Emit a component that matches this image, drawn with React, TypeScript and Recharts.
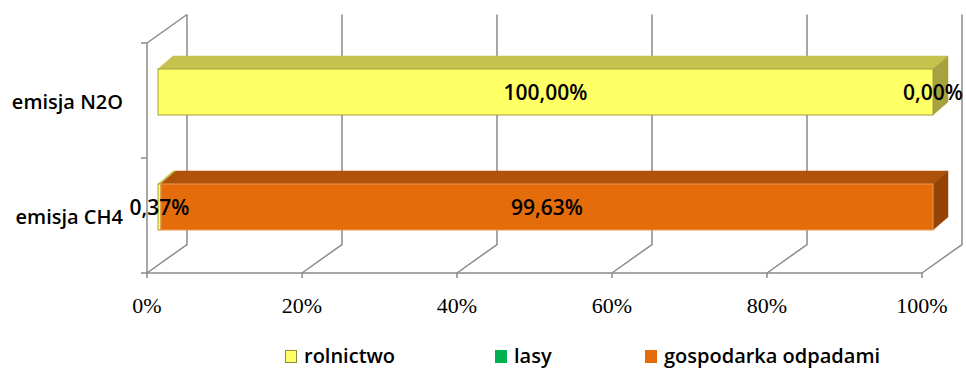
import { Bar, BarChart, CartesianGrid, LabelList, Legend, XAxis, YAxis } from 'recharts'

const categories = ['emisja N2O', 'emisja CH4']
const rolnictwo = [100, 0.37]
const lasy = [0, 0]
const gospodarka = [0, 99.63]
const xTicks = [0, 20, 40, 60, 80, 100]
const seriesNames = ['rolnictwo', 'lasy', 'gospodarka odpadami']

const data = categories.map((name, i) => ({
  name,
  rolnictwo: rolnictwo[i],
  lasy: lasy[i],
  gospodarka: gospodarka[i],
}))

// fake 3d: back wall offset and bar depth
const WALL_DX = 40
const WALL_DY = -28.5
const BAR_DX = 11
const BAR_DY = -9
const DEPTH_DX = 15
const DEPTH_DY = -13
const Y_TICK_SIZE = 6
const Y_TICK_MARGIN = 18
const GRID = '#8a8a8a'
const SANS = '"Open Sans", sans-serif'

const palettes = {
  rolnictwo: { front: '#ffff66', top: '#c6c24e', side: '#a6a23f', stroke: '#a3a046' },
  lasy: { front: '#00b050', top: '#008a3e', side: '#006e32', stroke: '#00a04a' },
  gospodarka: { front: '#e46c0a', top: '#b05209', side: '#944505', stroke: '#ee9a55' },
}

const legendItems = [
  { name: seriesNames[0], fill: palettes.rolnictwo.front, border: '#8f8c3a', width: 210 },
  { name: seriesNames[1], fill: palettes.lasy.front, border: palettes.lasy.front, width: 150 },
  { name: seriesNames[2], fill: palettes.gospodarka.front, border: palettes.gospodarka.front, width: 260 },
]

const formatPct = (v: number) => `${v.toFixed(2).replace('.', ',')}%`

function Bar3D(props: any) {
  const { palette } = props
  const x = Number(props.x)
  const y = Number(props.y)
  const width = Number(props.width)
  const height = Number(props.height)
  if (!width || width < 0.5) return null
  const fx = x + BAR_DX
  const fy = y + BAR_DY
  const top = `${fx},${fy} ${fx + width},${fy} ${fx + width + DEPTH_DX},${fy + DEPTH_DY} ${fx + DEPTH_DX},${fy + DEPTH_DY}`
  const side = `${fx + width},${fy} ${fx + width + DEPTH_DX},${fy + DEPTH_DY} ${fx + width + DEPTH_DX},${fy + height + DEPTH_DY} ${fx + width},${fy + height}`
  return (
    <g>
      <polygon points={top} fill={palette.top} stroke={palette.top} strokeWidth={0.5} />
      <polygon points={side} fill={palette.side} stroke={palette.side} strokeWidth={0.5} />
      <rect x={fx} y={fy} width={width} height={height} fill={palette.front} stroke={palette.stroke} strokeWidth={1} />
    </g>
  )
}

const renderValueLabel = (props: any) => {
  const box = props.viewBox ?? props
  const { value } = props
  if (value == null) return null
  const cx = Number(box.x) + Number(box.width) / 2 + BAR_DX
  const cy = Number(box.y) + Number(box.height) / 2 + BAR_DY
  return (
    <text
      x={cx}
      y={cy}
      textAnchor='middle'
      dominantBaseline='central'
      fontFamily={SANS}
      fontSize={21}
      fontWeight={600}
      fill='#000'
    >
      {formatPct(Number(value))}
    </text>
  )
}

const renderWallLine = (props: any) => {
  const { x1, y1, y2, index } = props
  const bx = x1 + WALL_DX
  return (
    <g key={`wall-${index}`}>
      <polyline
        points={`${bx},${y1 + WALL_DY} ${bx},${y2 + WALL_DY} ${x1},${y2}`}
        fill='none'
        stroke={GRID}
        strokeWidth={1.5}
      />
      {index === 0 && <line x1={x1} y1={y1} x2={bx} y2={y1 + WALL_DY} stroke={GRID} strokeWidth={1.5} />}
    </g>
  )
}

function CategoryTick(props: any) {
  const { x, y, payload, index } = props
  const half = payload?.offset || 57.5
  const axisX = x + Y_TICK_MARGIN + Y_TICK_SIZE
  const tickX = x + Y_TICK_MARGIN
  return (
    <g>
      <line x1={tickX} x2={axisX} y1={y - half} y2={y - half} stroke={GRID} strokeWidth={1.5} />
      {index === categories.length - 1 && (
        <line x1={tickX} x2={axisX} y1={y + half} y2={y + half} stroke={GRID} strokeWidth={1.5} />
      )}
      <text
        x={x}
        y={y + 1}
        textAnchor='end'
        dominantBaseline='central'
        fontFamily={SANS}
        fontSize={20}
        fontWeight={600}
        fill='#000'
      >
        {payload.value}
      </text>
    </g>
  )
}

function PercentTick(props: any) {
  const { x, y, payload } = props
  return (
    <text x={x} y={y + 33} textAnchor='middle' fontFamily='"Liberation Serif", serif' fontSize={22} fill='#000'>
      {`${payload.value}%`}
    </text>
  )
}

function LegendBox() {
  return (
    <div style={{ display: 'flex', paddingLeft: 285, height: 22, alignItems: 'center' }}>
      {legendItems.map((item) => (
        <div key={item.name} style={{ display: 'flex', alignItems: 'center', width: item.width }}>
          <span
            style={{
              display: 'inline-block',
              width: 10,
              height: 11,
              background: item.fill,
              border: `1.5px solid ${item.border}`,
              marginRight: 7,
            }}
          />
          <span
            style={{
              fontFamily: SANS,
              fontSize: 20,
              fontWeight: 600,
              lineHeight: '22px',
              color: '#000',
              whiteSpace: 'nowrap',
            }}
          >
            {item.name}
          </span>
        </div>
      ))}
    </div>
  )
}

export default function App() {
  return (
    <div style={{ position: 'absolute', left: 0, top: 0, width: 966, height: 370, background: '#fff' }}>
      <BarChart
        width={966}
        height={370}
        data={data}
        layout='vertical'
        margin={{ top: 43, right: 44, bottom: 37, left: 0 }}
        barSize={46}
      >
        <CartesianGrid horizontal={false} vertical={renderWallLine} />
        <XAxis
          type='number'
          domain={[0, 100]}
          ticks={xTicks}
          interval={0}
          height={60}
          stroke={GRID}
          strokeWidth={1.5}
          tickSize={5}
          tickMargin={2}
          tick={<PercentTick />}
        />
        <YAxis
          type='category'
          dataKey='name'
          width={147}
          stroke={GRID}
          strokeWidth={1.5}
          tickLine={false}
          tickSize={Y_TICK_SIZE}
          tickMargin={Y_TICK_MARGIN}
          tick={<CategoryTick />}
        />
        <Legend
          layout='horizontal'
          verticalAlign='middle'
          align='center'
          wrapperStyle={{ left: 0, top: 345, width: 966, height: 22 }}
          content={() => <LegendBox />}
        />
        <Bar
          dataKey='rolnictwo'
          name={seriesNames[0]}
          stackId='a'
          fill={palettes.rolnictwo.front}
          isAnimationActive={false}
          shape={(p: any) => <Bar3D {...p} palette={palettes.rolnictwo} />}
        >
          <LabelList dataKey='rolnictwo' content={renderValueLabel} />
        </Bar>
        <Bar
          dataKey='lasy'
          name={seriesNames[1]}
          stackId='a'
          fill={palettes.lasy.front}
          isAnimationActive={false}
          shape={(p: any) => <Bar3D {...p} palette={palettes.lasy} />}
        />
        <Bar
          dataKey='gospodarka'
          name={seriesNames[2]}
          stackId='a'
          fill={palettes.gospodarka.front}
          isAnimationActive={false}
          shape={(p: any) => <Bar3D {...p} palette={palettes.gospodarka} />}
        >
          <LabelList dataKey='gospodarka' content={renderValueLabel} />
        </Bar>
      </BarChart>
    </div>
  )
}
